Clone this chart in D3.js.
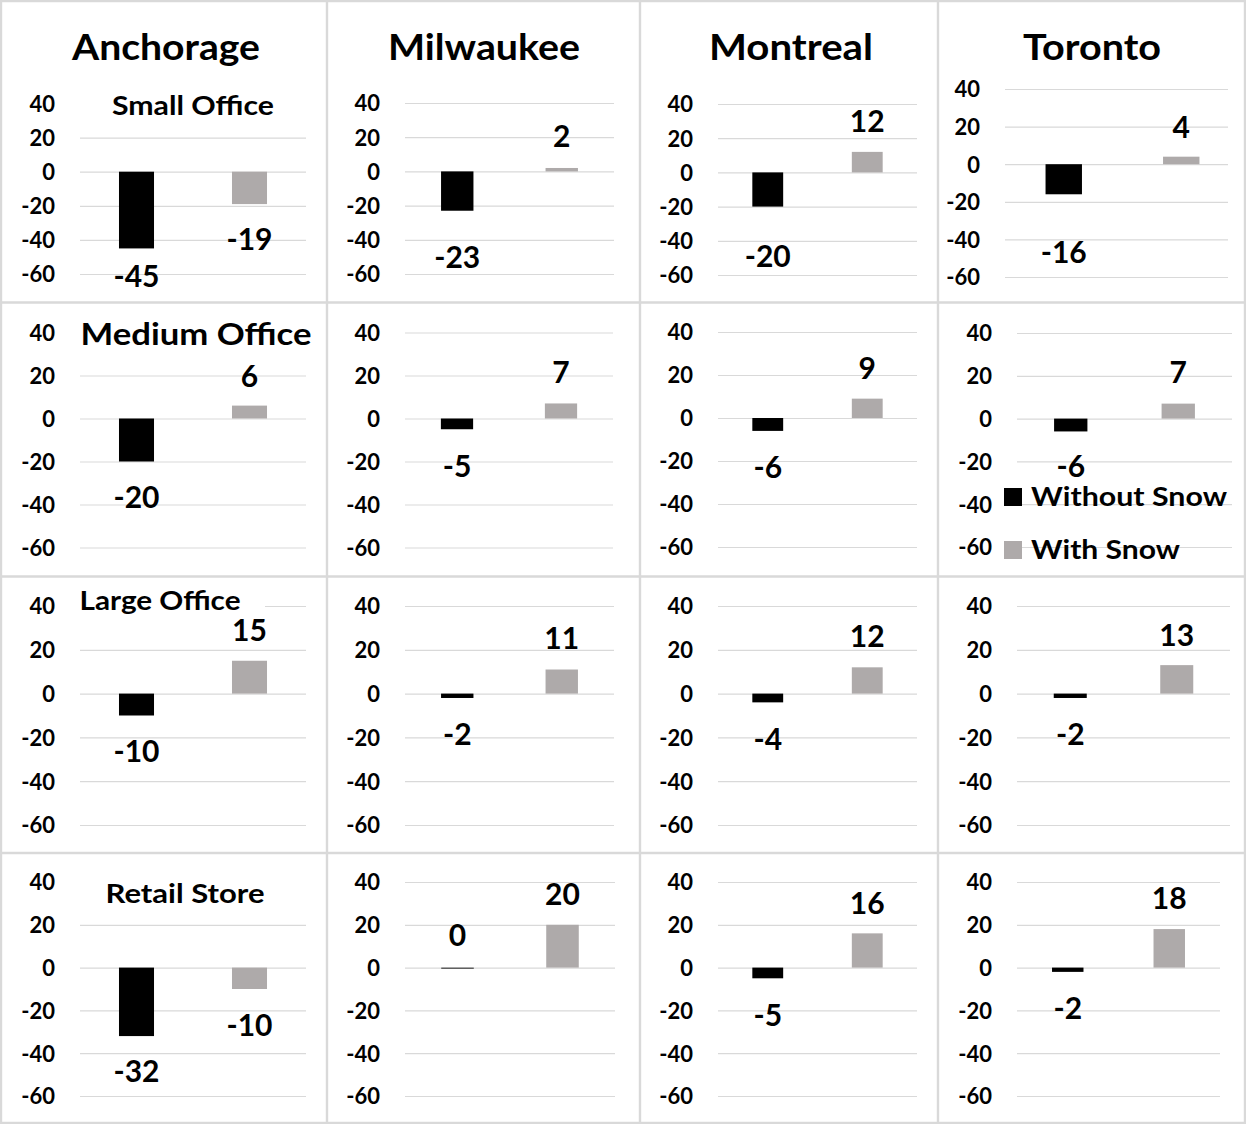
<!DOCTYPE html>
<html>
<head>
<meta charset="utf-8">
<script src="https://cdn.jsdelivr.net/npm/d3@7"></script>
<style>
  body { margin: 0; background: #fff; }
  svg text { font-family: Lato, "Open Sans", "DejaVu Sans", sans-serif; font-weight: 700; fill: #000; }
</style>
</head>
<body>
<svg id="chart" width="1246" height="1124"></svg>
<script>
// ---- data ---------------------------------------------------------------
const cities = ["Anchorage", "Milwaukee", "Montreal", "Toronto"];
const buildings = ["Small Office", "Medium Office", "Large Office", "Retail Store"];
const seriesNames = ["Without Snow", "With Snow"];

// percent change, rows = building type, columns = city
const withoutSnow = [
  [-45, -23, -20, -16],
  [-20,  -5,  -6,  -6],
  [-10,  -2,  -4,  -2],
  [-32,   0,  -5,  -2]
];
const withSnow = [
  [-19,  2, 12,  4],
  [  6,  7,  9,  7],
  [ 15, 11, 12, 13],
  [-10, 20, 16, 18]
];
const yTicks = [40, 20, 0, -20, -40, -60];

// ---- layout -------------------------------------------------------------
const W = 1246, H = 1124;
const colEdges = [1, 327, 640, 938, 1245];
const rowEdges = [1, 302.5, 576.5, 853, 1123];

// plot frame of each small chart: [left, right, y of 40, y of -60]
const frames = [
  [[80, 306, 103.5, 274], [405, 614, 103, 274], [718, 917, 104, 275], [1005, 1240, 89, 277]],
  [[80, 306, 332.5, 547.5], [405, 613, 332.5, 547.5], [718, 917, 332, 547], [1017, 1232, 333, 547]],
  [[80, 306, 606, 825], [405, 614, 606, 825], [718, 917, 606, 825], [1017, 1230, 606, 825]],
  [[80, 306, 882, 1096], [405, 615, 882, 1096], [718, 917, 882, 1096], [1017, 1220, 882, 1096]]
];
// gridline extent where it differs from the band range
const gridRight = [[306, 614, 917, 1228], [306, 613, 917, 1232], [306, 614, 917, 1230], [306, 615, 917, 1220]];

// baseline offset of each value label from the end of its bar
const labelDyWithout = [[39, 57, 60, 69], [46, 48, 47, 46], [46, 47, 48, 47], [46, -22, 48, 47]];
const labelDyWith = [[46, -21, -20, -19], [-19, -20, -20, -21], [-20, -21, -20, -19], [47, -20, -19, -20]];
const labelFill = [["#000", "#000", "#000", "#000"], ["#000", "#404040", "#000", "#000"],
                   ["#000", "#000", "#000", "#000"], ["#000", "#000", "#000", "#000"]];

// subtitle per row (first column): centre x, baseline, font size, drawn width, right end of its white box
const subtitlePos = [[193, 115, 27, 162, 306], [196, 345, 31, 231, 306], [160, 610, 27, 161, 265], [185, 903, 27, 159, 306]];
// city headers: centre x and drawn width
const headerPos = [[166, 188], [484, 192], [791, 164], [1092, 138]];
const legendWidths = [196, 149];

const colors = { "Without Snow": "#000000", "With Snow": "#aeaaaa" };
const gridColor = "#d9d9d9";
const fmt = d => String(d);

const svg = d3.select("#chart");
svg.append("rect").attr("width", W).attr("height", H).attr("fill", "#fff");

// ---- small multiples ----------------------------------------------------
buildings.forEach((b, r) => {
  cities.forEach((c, ci) => {
    const [x0, x1, yTop, yBot] = frames[r][ci];
    const g = svg.append("g").attr("class", "panel");

    const x = d3.scaleBand().domain(seriesNames).range([x0, x1]).paddingInner(0.69).paddingOuter(0.345);
    const y = d3.scaleLinear().domain([-60, 40]).range([yBot, yTop]);

    // value axis with gridlines
    const axis = d3.axisLeft(y)
      .tickValues(yTicks)
      .tickSize(-(gridRight[r][ci] - x0))
      .tickPadding(25)
      .tickFormat(fmt);
    const ag = g.append("g").attr("transform", `translate(${x0},0)`).call(axis);
    ag.select(".domain").remove();
    ag.selectAll(".tick line").attr("stroke", gridColor).attr("stroke-width", 1.2);
    ag.selectAll(".tick text")
      .style("font-size", "22px")
      .attr("fill", "#000")
      .attr("dy", "0.36em");

    const vals = [withoutSnow[r][ci], withSnow[r][ci]];
    const bars = seriesNames.map((s, i) => ({ s, v: vals[i] }));

    g.selectAll("rect.bar").data(bars).join("rect")
      .attr("class", "bar")
      .attr("x", d => x(d.s))
      .attr("width", x.bandwidth())
      .attr("y", d => Math.min(y(d.v), y(0)))
      .attr("height", d => Math.max(1.2, Math.abs(y(d.v) - y(0))))
      .attr("fill", d => d.v === 0 ? "#404040" : colors[d.s]);

    const dys = [labelDyWithout[r][ci], labelDyWith[r][ci]];
    g.selectAll("text.val").data(bars).join("text")
      .attr("class", "val")
      .attr("x", d => x(d.s) + x.bandwidth() / 2)
      .attr("y", (d, i) => y(d.v) + dys[i])
      .attr("text-anchor", "middle")
      .style("font-size", "30px")
      .attr("fill", labelFill[r][ci])
      .text(d => fmt(d.v));
  });

  // subtitle with a white box that hides the gridline beneath it
  const [sx, sy, fs, sw, boxRight] = subtitlePos[r];
  const x0 = frames[r][0][0];
  const st = svg.append("g");
  const box = st.append("rect").attr("fill", "#fff");
  const t = st.append("text")
    .attr("x", sx).attr("y", sy)
    .attr("text-anchor", "middle")
    .attr("textLength", sw)
    .attr("lengthAdjust", "spacingAndGlyphs")
    .style("font-size", fs + "px")
    .text(b);
  const bb = t.node().getBBox();
  box.attr("x", x0).attr("y", bb.y + 2).attr("width", Math.max(boxRight, bb.x + bb.width) - x0).attr("height", bb.height - 4);
});

// city headers
svg.selectAll("text.city").data(cities).join("text")
  .attr("class", "city")
  .attr("x", (d, i) => headerPos[i][0])
  .attr("y", 60)
  .attr("text-anchor", "middle")
  .attr("textLength", (d, i) => headerPos[i][1])
  .attr("lengthAdjust", "spacingAndGlyphs")
  .style("font-size", "37px")
  .text(d => d);

// legend inside the Toronto / Medium Office chart
const legend = svg.append("g").attr("transform", "translate(1004,488)");
seriesNames.forEach((s, i) => {
  legend.append("rect").attr("x", 0).attr("y", i * 53).attr("width", 18).attr("height", 18).attr("fill", colors[s]);
  legend.append("text").attr("x", 27).attr("y", i * 53 + 18)
    .attr("textLength", legendWidths[i]).attr("lengthAdjust", "spacingAndGlyphs")
    .style("font-size", "26px").text(s);
});

// panel borders
const border = svg.append("g").attr("stroke", gridColor).attr("stroke-width", 2.4).attr("fill", "none");
colEdges.forEach(cx => border.append("line").attr("x1", cx).attr("x2", cx).attr("y1", 0).attr("y2", H));
rowEdges.forEach(ry => border.append("line").attr("x1", 0).attr("x2", W).attr("y1", ry).attr("y2", ry));
</script>
</body>
</html>
